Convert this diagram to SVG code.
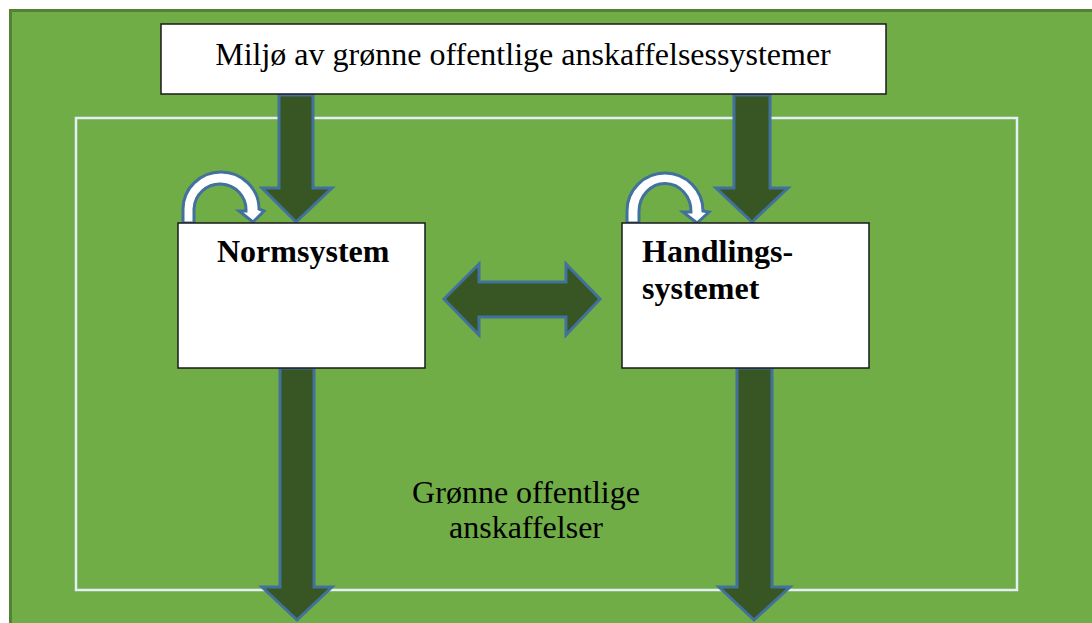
<svg xmlns="http://www.w3.org/2000/svg" width="1092" height="623" viewBox="0 0 1092 623">
<style>
.bg{fill:#70AD47;stroke:#548235;stroke-width:3}
.box{fill:#FFFFFF;stroke:#1a1a1a;stroke-width:1.5}
.frame{fill:none;stroke:#E4EEF6;stroke-width:2.5}
.big{fill:#375623;stroke:#41719C;stroke-width:3;stroke-linejoin:miter}
.curl{fill:#FFFFFF;stroke:#41719C;stroke-width:3;stroke-linejoin:miter}
.t{font-family:"Liberation Serif","Times New Roman",serif;fill:#000;font-size:32px}
.b{font-weight:bold}
</style>
<rect width="1092" height="623" fill="#FFFFFF"/>
<rect class="bg" x="10.5" y="10.5" width="1100" height="640"/>
<rect class="frame" x="76" y="118" width="941" height="472"/>
<g id="connectors">
<polygon class="big" points="279,95 313,95 313,188 332,188 296,222 262,188 279,188"/>
<polygon class="big" points="734,95 770,95 770,188 788,188 752,222 716,188 734,188"/>
<polygon class="big" points="444,299 479,264 479,282 566,282 566,264 600,299 566,335 566,317 479,317 479,335"/>
<polygon class="big" points="280,368 314,368 314,587 332,587 297,620 262,587 280,587"/>
<polygon class="big" points="737,368 772,368 772,587 790,587 754,620 719,587 737,587"/>
<path class="curl" d="M183,223 L183,209 A38,37 0 0 1 259,209 L264,211 L253,222 L239,211 L246,211 A26,26 0 0 0 194,209 L194,223 Z"/>
<path class="curl" d="M627,223 L627,211 A38,38 0 0 1 703,211 L709,212 L697,223 L683,212 L691,212 A26,28 0 0 0 639,211 L639,223 Z"/>
</g>
<g id="title">
<rect class="box" x="161" y="24" width="725" height="70"/>
<text class="t" x="523" y="65" text-anchor="middle">Miljø av grønne offentlige anskaffelsessystemer</text>
</g>
<g id="normsystem">
<rect class="box" x="178" y="223" width="247" height="145"/>
<text class="t b" x="217" y="262">Normsystem</text>
</g>
<g id="handlingssystemet">
<rect class="box" x="622" y="223" width="247" height="145"/>
<text class="t b" x="642" y="262">Handlings-</text>
<text class="t b" x="642" y="299">systemet</text>
</g>
<g id="label">
<text class="t" x="526" y="503" text-anchor="middle">Grønne offentlige</text>
<text class="t" x="526" y="538" text-anchor="middle">anskaffelser</text>
</g>
</svg>
